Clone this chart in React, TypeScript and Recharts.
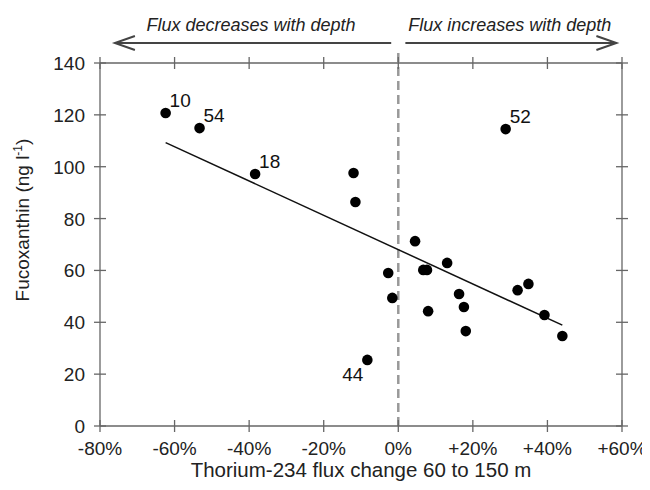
import React from "react";
import { ScatterChart, Scatter, XAxis, YAxis, ReferenceLine, Label } from "recharts";

// station values
const fluxChange = [-62.4, -53.3, -38.4, -12, -11.5, -8.3, -2.7, -1.6, 4.5, 6.7, 7.7, 8, 13.1, 16.3, 17.6, 18.1, 28.8, 32, 34.9, 39.2, 44];
const fucoxanthin = [120.7, 114.9, 97.2, 97.6, 86.4, 25.5, 59, 49.4, 71.3, 60.2, 60.2, 44.3, 62.9, 50.9, 45.9, 36.6, 114.5, 52.4, 54.8, 42.8, 34.7];
const stationLabels = ["10", "54", "18", "", "", "44", "", "", "", "", "", "", "", "", "", "", "52", "", "", "", ""];

// regression line end points
const trendX = [-62.4, 44];
const trendY = [109.3, 38.9];

const xTicks = [-80, -60, -40, -20, 0, 20, 40, 60];
const yTicks = [0, 20, 40, 60, 80, 100, 120, 140];
const xDomain: [number, number] = [-80, 60];
const yDomain: [number, number] = [0, 140];

const leftText = "Flux decreases with depth";
const rightText = "Flux increases with depth";
const xTitle = "Thorium-234 flux change 60 to 150 m";

const points = fluxChange.map((x, i) => ({ x, y: fucoxanthin[i], label: stationLabels[i] }));
const trend = trendX.map((x, i) => ({ x, y: trendY[i] }));

const AXIS = "#666";
const FONT = "'Liberation Sans', Arial, sans-serif";
const BELOW_LEFT = ["44"];

const pct = (v: number) => (v > 0 ? `+${v}%` : `${v}%`);

const BottomTick = (p: any) => {
  const axisY = p.y - 29;
  return (
    <g>
      <line x1={p.x} x2={p.x} y1={axisY - 6} y2={axisY + 6} stroke={AXIS} strokeWidth={1.3} />
      <text x={p.x} y={p.y} textAnchor="middle" fontSize={19} fill="#222" fontFamily={FONT}>
        {pct(p.payload.value)}
      </text>
    </g>
  );
};

const LeftTick = (p: any) => {
  const axisX = p.x + 15;
  return (
    <g>
      <line x1={axisX - 6} x2={axisX + 6} y1={p.y} y2={p.y} stroke={AXIS} strokeWidth={1.3} />
      <text x={p.x} y={p.y + 7} textAnchor="end" fontSize={19} fill="#222" fontFamily={FONT}>
        {p.payload.value}
      </text>
    </g>
  );
};

const TopTick = (p: any) => (
  <line x1={p.x} x2={p.x} y1={p.y - 6} y2={p.y + 6} stroke={AXIS} strokeWidth={1.3} />
);

const RightTick = (p: any) => (
  <line x1={p.x - 6} x2={p.x + 6} y1={p.y} y2={p.y} stroke={AXIS} strokeWidth={1.3} />
);

const Dot = (p: any) => {
  const { cx, cy, payload } = p;
  const below = BELOW_LEFT.includes(payload.label);
  return (
    <g>
      <circle cx={cx} cy={cy} r={5.3} fill="#000" />
      {payload.label ? (
        <text
          x={below ? cx - 4 : cx + 4}
          y={below ? cy + 21 : cy - 6}
          textAnchor={below ? "end" : "start"}
          fontSize={19}
          fill="#111"
          fontFamily={FONT}
        >
          {payload.label}
        </text>
      ) : null}
    </g>
  );
};

const Arrows = (props: any) => {
  const vb = props.viewBox;
  const px = (v: number) => vb.x + ((v - xDomain[0]) / (xDomain[1] - xDomain[0])) * vb.width;
  const ay = vb.y - 10;
  const stroke = "#444";
  return (
    <g fontFamily={FONT} fontStyle="italic" fontSize={18} fill="#222">
      <text x={px(-39.5)} y={vb.y - 22} textAnchor="middle">{leftText}</text>
      <text x={px(29.9)} y={vb.y - 22} textAnchor="middle">{rightText}</text>
      <line x1={px(-76)} x2={px(-1.9)} y1={ay} y2={ay} stroke={stroke} strokeWidth={2} />
      <polyline
        points={`${px(-76) + 20},${ay - 7} ${px(-76)},${ay} ${px(-76) + 20},${ay + 7}`}
        fill="none"
        stroke={stroke}
        strokeWidth={2}
      />
      <line x1={px(1.9)} x2={px(58.5)} y1={ay} y2={ay} stroke={stroke} strokeWidth={2} />
      <polyline
        points={`${px(58.5) - 20},${ay - 7} ${px(58.5)},${ay} ${px(58.5) - 20},${ay + 7}`}
        fill="none"
        stroke={stroke}
        strokeWidth={2}
      />
    </g>
  );
};

const XTitle = (props: any) => {
  const vb = props.viewBox;
  return (
    <text x={vb.x + vb.width / 2} y={vb.y + 51} textAnchor="middle" fontSize={20.5} fill="#222" fontFamily={FONT}>
      {xTitle}
    </text>
  );
};

const YTitle = (props: any) => {
  const vb = props.viewBox;
  const cx = vb.x - 11;
  const cy = 212;
  return (
    <text
      x={cx}
      y={cy}
      transform={`rotate(-90, ${cx}, ${cy})`}
      textAnchor="middle"
      fontSize={19}
      fill="#222"
      fontFamily={FONT}
    >
      Fucoxanthin (ng l
      <tspan dy={-7} fontSize={12}>-1</tspan>
      <tspan dy={7}>)</tspan>
    </text>
  );
};

export default function App() {
  return (
    <ScatterChart width={642} height={474} margin={{ top: 45, right: 18, bottom: 6, left: 32 }}>
      <XAxis
        xAxisId="b"
        type="number"
        dataKey="x"
        domain={xDomain}
        ticks={xTicks}
        height={50}
        stroke={AXIS}
        axisLine={{ stroke: AXIS, strokeWidth: 1.3 }}
        tickLine={false}
        tickSize={0}
        tickMargin={29}
        tick={BottomTick}
        interval={0}
      >
        <Label content={XTitle} />
      </XAxis>
      <XAxis
        xAxisId="t"
        orientation="top"
        type="number"
        dataKey="x"
        domain={xDomain}
        ticks={xTicks}
        height={10}
        axisLine={{ stroke: AXIS, strokeWidth: 1.3 }}
        tickLine={false}
        tickSize={0}
        tickMargin={0}
        tick={TopTick}
        interval={0}
      >
        <Label content={Arrows} />
      </XAxis>
      <YAxis
        yAxisId="l"
        type="number"
        dataKey="y"
        domain={yDomain}
        ticks={yTicks}
        width={60}
        axisLine={{ stroke: AXIS, strokeWidth: 1.3 }}
        tickLine={false}
        tickSize={0}
        tickMargin={15}
        tick={LeftTick}
        interval={0}
      >
        <Label content={YTitle} />
      </YAxis>
      <YAxis
        yAxisId="r"
        orientation="right"
        type="number"
        dataKey="y"
        domain={yDomain}
        ticks={yTicks}
        width={10}
        axisLine={{ stroke: AXIS, strokeWidth: 1.3 }}
        tickLine={false}
        tickSize={0}
        tickMargin={0}
        tick={RightTick}
        interval={0}
      />
      <ReferenceLine
        xAxisId="b"
        yAxisId="l"
        segment={[{ x: 0, y: 0 }, { x: 0, y: 145 }]}
        ifOverflow="visible"
        stroke="#999"
        strokeWidth={2.5}
        strokeDasharray="9 5"
      />
      <Scatter
        data={trend}
        xAxisId="t"
        yAxisId="r"
        line={{ stroke: "#111", strokeWidth: 1.5 }}
        shape={() => <g />}
        isAnimationActive={false}
      />
      <Scatter data={points} xAxisId="b" yAxisId="l" shape={Dot} isAnimationActive={false} />
    </ScatterChart>
  );
}
